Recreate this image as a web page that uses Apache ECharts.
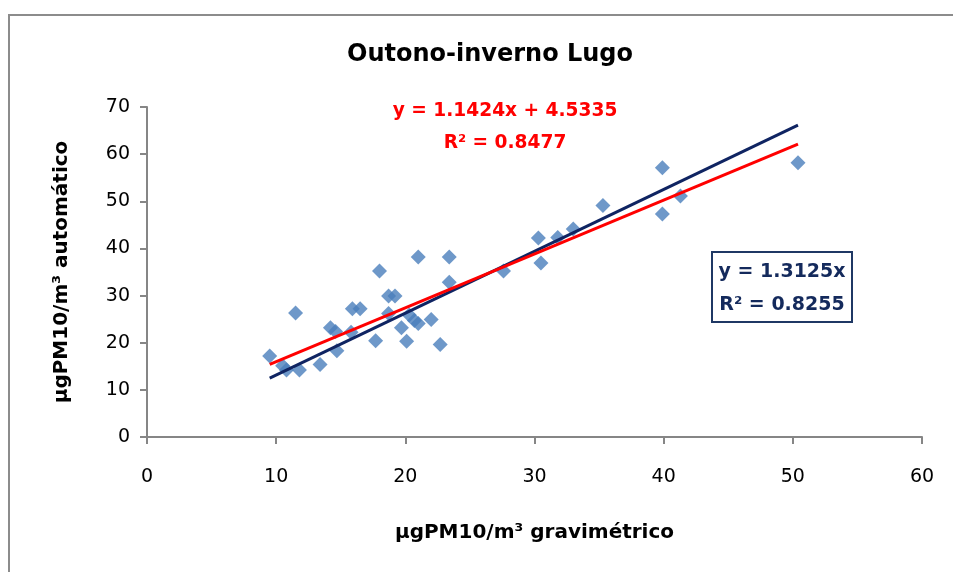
<!DOCTYPE html>
<html>
<head>
<meta charset="utf-8">
<script src="https://cdn.jsdelivr.net/npm/echarts@6/dist/echarts.min.js"></script>
<style>
  html, body { margin: 0; padding: 0; background: #fff; }
  #chart { width: 953px; height: 572px; }
</style>
</head>
<body>
<div id="chart"></div>
<script>
// gravimetric (x) vs automatic (y) PM10, autumn-winter Lugo
var gravimetrico = [9.5, 10.5, 10.8, 11.8, 11.5, 13.4, 14.2, 14.6, 14.7, 15.8, 15.9, 16.5, 17.7, 18.0, 18.7, 18.7,
  19.2, 19.7, 20.1, 20.3, 20.7, 21.0, 21.0, 22.0, 22.7, 23.4, 23.4, 27.6, 30.3, 30.5, 31.8, 33.0, 35.3, 39.9, 39.9, 41.3, 50.4];
var automatico = [17.2, 15.1, 14.2, 14.2, 26.3, 15.4, 23.2, 22.4, 18.3, 22.2, 27.2, 27.2, 20.4, 35.2, 29.9, 26.2,
  29.9, 23.2, 20.3, 25.9, 24.7, 24.1, 38.2, 24.9, 19.6, 32.8, 38.2, 35.2, 42.2, 36.9, 42.3, 44.1, 49.1, 57.1, 47.3, 51.1, 58.2];

// trend lines from the reference labels
var fitRed = [1.1424, 4.5335];   // slope, intercept
var fitBlue = [1.3125, 0];
var fitRange = [9.5, 50.4];

var xTicks = [0, 10, 20, 30, 40, 50, 60];
var yTicks = [0, 10, 20, 30, 40, 50, 60, 70];

var points = gravimetrico.map(function (x, i) { return [x, automatico[i]]; });
function fitLine(f) {
  return fitRange.map(function (x) { return [x, f[0] * x + f[1]]; });
}

var myChart = echarts.init(document.getElementById('chart'));
var axisGray = '#868686';
var font = '"DejaVu Sans", sans-serif';

myChart.setOption({
  animation: false,
  grid: { left: 147, right: 31, top: 107, bottom: 135 },
  xAxis: {
    type: 'value',
    min: xTicks[0], max: xTicks[xTicks.length - 1], interval: 10,
    name: 'µgPM10/m³ gravimétrico',
    nameLocation: 'middle',
    nameGap: 86,
    nameTextStyle: { fontFamily: font, fontWeight: 'bold', fontSize: 20, color: '#000' },
    axisLine: { show: true, onZero: false, lineStyle: { color: axisGray, width: 2 } },
    axisTick: { show: true, length: 7, lineStyle: { color: axisGray, width: 2 } },
    axisLabel: { fontFamily: font, fontSize: 19, color: '#000', margin: 31 },
    splitLine: { show: false }
  },
  yAxis: {
    type: 'value',
    min: yTicks[0], max: yTicks[yTicks.length - 1], interval: 10,
    name: 'µgPM10/m³ automático',
    nameLocation: 'middle',
    nameGap: 75,
    nameTextStyle: { fontFamily: font, fontWeight: 'bold', fontSize: 20, color: '#000' },
    axisLine: { show: true, lineStyle: { color: axisGray, width: 2 } },
    axisTick: { show: true, length: 7, lineStyle: { color: axisGray, width: 2 } },
    axisLabel: { fontFamily: font, fontSize: 19, color: '#000', margin: 17 },
    splitLine: { show: false }
  },
  graphic: [
    {
      type: 'rect', z: -1,
      shape: { x: 9, y: 15, width: 960, height: 570 },
      style: { fill: '#fff', stroke: '#8c8c8c', lineWidth: 2 }
    },
    {
      type: 'text', x: 490, y: 55,
      style: { text: 'Outono-inverno Lugo', fontFamily: font, fontWeight: 'bold', fontSize: 24,
        fill: '#000', textAlign: 'center', textVerticalAlign: 'middle' }
    },
    {
      type: 'text', x: 505, y: 111,
      style: { text: 'y = 1.1424x + 4.5335', fontFamily: font, fontWeight: 'bold', fontSize: 18.6,
        fill: '#ff0000', textAlign: 'center', textVerticalAlign: 'middle' }
    },
    {
      type: 'text', x: 505, y: 143,
      style: { text: 'R² = 0.8477', fontFamily: font, fontWeight: 'bold', fontSize: 18.6,
        fill: '#ff0000', textAlign: 'center', textVerticalAlign: 'middle' }
    },
    {
      type: 'rect',
      shape: { x: 712, y: 252, width: 140, height: 70 },
      style: { fill: '#fff', stroke: '#1f3864', lineWidth: 2 }
    },
    {
      type: 'text', x: 782, y: 272,
      style: { text: 'y = 1.3125x', fontFamily: font, fontWeight: 'bold', fontSize: 19,
        fill: '#142a5c', textAlign: 'center', textVerticalAlign: 'middle' }
    },
    {
      type: 'text', x: 782, y: 305,
      style: { text: 'R² = 0.8255', fontFamily: font, fontWeight: 'bold', fontSize: 19,
        fill: '#142a5c', textAlign: 'center', textVerticalAlign: 'middle' }
    }
  ],
  series: [
    {
      type: 'scatter',
      data: points,
      symbol: 'diamond',
      symbolSize: 15,
      itemStyle: { color: '#4a7ebb' },
      z: 2
    },
    {
      type: 'line',
      data: fitLine(fitBlue),
      symbol: 'none',
      lineStyle: { color: '#0f2462', width: 3 },
      z: 3
    },
    {
      type: 'line',
      data: fitLine(fitRed),
      symbol: 'none',
      lineStyle: { color: '#ff0000', width: 3 },
      z: 4
    }
  ]
});
</script>
</body>
</html>
